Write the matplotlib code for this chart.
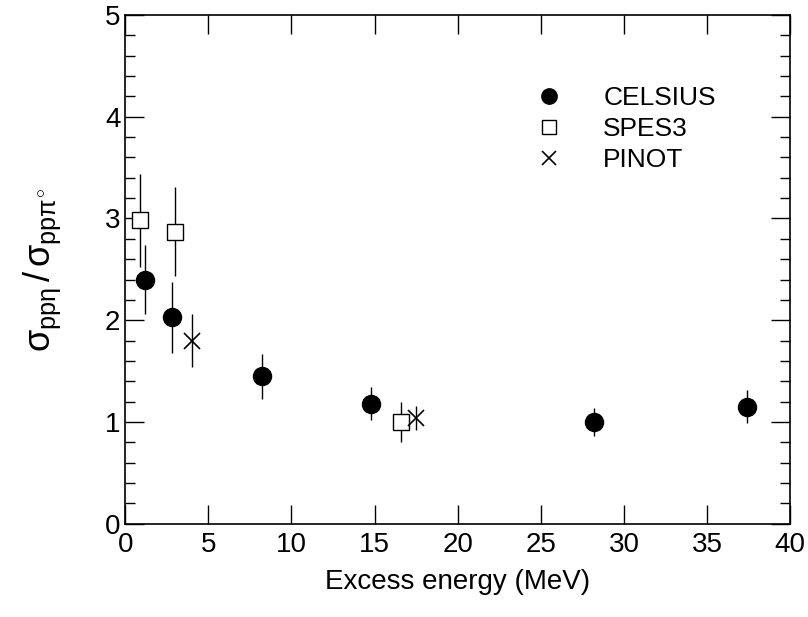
import numpy as np
import matplotlib.pyplot as plt
from matplotlib.ticker import MultipleLocator

plt.rcParams['font.family'] = ['Liberation Sans', 'DejaVu Sans']
plt.rcParams['mathtext.fontset'] = 'custom'
plt.rcParams['mathtext.rm'] = 'Liberation Sans'
plt.rcParams['mathtext.it'] = 'Liberation Sans'

# 数据：超额能量 (MeV) 与截面比值
celsius_x = [1.2, 2.8, 8.2, 14.8, 28.2, 37.4]
celsius_y = [2.40, 2.03, 1.45, 1.18, 1.00, 1.15]
celsius_err = [0.34, 0.35, 0.22, 0.16, 0.14, 0.16]

spes3_x = [0.9, 3.0, 16.6]
spes3_y = [2.98, 2.87, 1.00]
spes3_err = [0.46, 0.44, 0.20]

pinot_x = [4.0, 17.5]
pinot_y = [1.80, 1.04]
pinot_err = [0.26, 0.12]

fig = plt.figure(figsize=(8.08, 6.17), dpi=100)
ax = fig.add_axes([0.155, 0.151, 0.823, 0.825])

ax.errorbar(celsius_x, celsius_y, yerr=celsius_err, fmt='o', color='black',
            ms=13, elinewidth=1, capsize=0, label='CELSIUS', zorder=3)
ax.errorbar(spes3_x, spes3_y, yerr=spes3_err, fmt='s', color='black',
            mfc='white', mec='black', ms=12, mew=1, elinewidth=1, capsize=0,
            label='SPES3', zorder=3)
ax.errorbar(pinot_x, pinot_y, yerr=pinot_err, fmt='x', color='black',
            ms=12, mew=1.2, elinewidth=1, capsize=0, label='PINOT', zorder=3)

ax.set_xlim(0, 40)
ax.set_ylim(0, 5)
ax.xaxis.set_major_locator(MultipleLocator(5))
ax.yaxis.set_major_locator(MultipleLocator(1))
ax.yaxis.set_minor_locator(MultipleLocator(0.2))
ax.tick_params(which='both', direction='in', top=True, right=True)
ax.tick_params(which='major', length=14, width=1, labelsize=20)
ax.tick_params(which='minor', length=7, width=1)
ax.tick_params(axis='x', pad=6)
for s in ax.spines.values():
    s.set_linewidth(1.2)

ax.set_xlabel('Excess energy (MeV)', fontsize=20, labelpad=8)
ax.set_ylabel(r'$\sigma_{pp\eta}\,/\,\sigma_{pp\pi^{\circ}}$', fontsize=26,
              labelpad=30)

# 图例，去掉边框和误差线
handles, labels = ax.get_legend_handles_labels()
handles = [h[0] for h in handles]
ax.legend(handles, labels, loc='upper left', bbox_to_anchor=(0.572, 0.907),
          frameon=False, fontsize=19, handletextpad=1.3, labelspacing=0.27,
          markerscale=0.85, handlelength=1.5)

fig.savefig('out.png', dpi=100)
